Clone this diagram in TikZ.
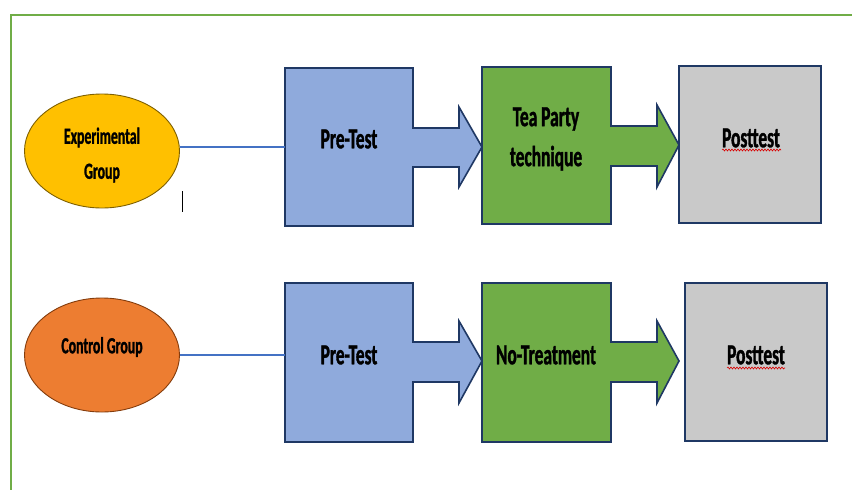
\documentclass[tikz,border=0pt]{standalone}
\usepackage{fontspec}
\newfontfamily\lblfont{Carlito}[FakeStretch=0.6,FakeBold=1.2]
\usetikzlibrary{shapes.geometric,decorations.pathmorphing}
\definecolor{frameGreen}{HTML}{70AD47}
\definecolor{boxBlue}{HTML}{8FAADC}
\definecolor{boxGreen}{HTML}{70AD47}
\definecolor{boxGray}{HTML}{C9C9C9}
\definecolor{boxEdge}{HTML}{1F3864}
\definecolor{gold}{HTML}{FFC000}
\definecolor{goldEdge}{HTML}{7F6000}
\definecolor{orng}{HTML}{ED7D31}
\definecolor{orngEdge}{HTML}{843C0C}
\definecolor{linkBlue}{HTML}{4472C4}
\begin{document}
\begin{tikzpicture}[x=1pt,y=-1pt,
  shapebox/.style={draw=boxEdge,line width=1.6pt,line join=miter},
  grp/.style={ellipse,line width=0.9pt,minimum width=155pt,minimum height=114pt,inner sep=0pt},
  grptxt/.style={inner sep=0pt,align=center,font=\lblfont\bfseries\fontsize{23}{35}\selectfont},
  lbl/.style={inner sep=0pt,align=center,font=\lblfont\bfseries\fontsize{29}{40}\selectfont},
  link/.style={draw=linkBlue,line width=1.1pt},
  spell/.style={draw=red!85!black,line width=0.6pt,decorate,decoration={snake,amplitude=1pt,segment length=3pt}}]
\useasboundingbox (0,0) rectangle (852,490);
% frame
\draw[frameGreen,line width=2pt] (11,490) -- (11,15) -- (852,15);

% ---- row 1 ----
\node[grp,draw=goldEdge,fill=gold] (ell1) at (102,151) {};
\node[grptxt] (ell1txt) at (102,155) {Experimental\\Group};
\draw[shapebox,fill=boxBlue] (285,68) -- (413,68) -- (413,128) -- (459,128) -- (459,107) -- (482,147)
  -- (459,187) -- (459,167) -- (413,167) -- (413,226) -- (285,226) -- cycle;
\draw[shapebox,fill=boxGreen] (482,67) -- (611,67) -- (611,126) -- (657,126) -- (657,105) -- (679,145)
  -- (657,187) -- (657,166) -- (611,166) -- (611,224) -- (482,224) -- cycle;
\draw[shapebox,fill=boxGray] (679,66) rectangle (821,223);
\coordinate (pre1in) at (285,147);
\node[lbl] (pre1) at (349,139) {Pre-Test};
\node[lbl] (tea) at (546,139) {Tea Party\\technique};
\node[lbl] (post1) at (751,138) {Posttest};
\draw[spell] (722,150) -- (781,150);
\draw[link] (pre1in) -- (pre1in -| ell1.east);
\draw[black,line width=0.8pt] (182,191) -- (182,212);

% ---- row 2 ----
\node[grp,draw=orngEdge,fill=orng] (ell2) at (102,355) {};
\node[grptxt] (ell2txt) at (102,347) {Control Group};
\draw[shapebox,fill=boxBlue] (285,283) -- (413,283) -- (413,342) -- (459,342) -- (459,321) -- (482,361)
  -- (459,403) -- (459,382) -- (413,382) -- (413,442) -- (285,442) -- cycle;
\draw[shapebox,fill=boxGreen] (482,283) -- (611,283) -- (611,342) -- (657,342) -- (657,321) -- (679,361)
  -- (657,403) -- (657,382) -- (611,382) -- (611,442) -- (482,442) -- cycle;
\draw[shapebox,fill=boxGray] (685,283) rectangle (827,441);
\coordinate (pre2in) at (285,355);
\node[lbl] (pre2) at (349,355) {Pre-Test};
\node[lbl] (notr) at (546,355) {No-Treatment};
\node[lbl] (post2) at (756,355) {Posttest};
\draw[spell] (727,368) -- (785,368);
\draw[link] (ell2.east) -- (pre2in);
\end{tikzpicture}
\end{document}
